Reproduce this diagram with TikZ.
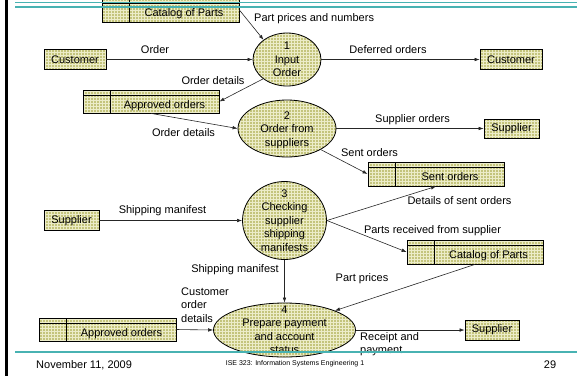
\documentclass[tikz,border=0pt]{standalone}
\usepackage{fontspec}
\setmainfont{Liberation Sans}
\usetikzlibrary{shapes.geometric,arrows.meta,patterns}
\definecolor{dfdfill}{RGB}{196,196,124}
\definecolor{gridline}{RGB}{236,236,200}
\definecolor{rulecol}{RGB}{72,178,178}
\begin{document}
\begin{tikzpicture}[x=1pt,y=-1pt,
  font=\fontsize{11}{13.5}\selectfont,
  boxfill/.style={preaction={fill=dfdfill}, pattern=grid, pattern color=gridline},
  ent/.style={draw, line width=0.8pt, boxfill, minimum height=20pt, inner sep=0pt},
  store/.style={draw, line width=0.8pt, boxfill, minimum height=23pt, inner sep=0pt,
    text height=13pt, text depth=0pt,
    path picture={
      \draw[line width=0.6pt] ([yshift=-5pt]path picture bounding box.north west) -- ([yshift=-5pt]path picture bounding box.north east);
      \draw[line width=0.8pt] ([xshift=27pt]path picture bounding box.north west) -- ([xshift=27pt]path picture bounding box.south west);}},
  proc/.style={ellipse, draw, line width=0.8pt, boxfill, inner sep=0pt},
  ptext/.style={align=center, inner sep=0pt},
  flow/.style={draw=black!85, line width=0.6pt, -{Latex[length=5pt,width=3.6pt]}},
  lbl/.style={inner sep=0pt, text height=8pt, text depth=2.5pt},
  mlbl/.style={inner sep=0pt, align=left, anchor=west}]
\useasboundingbox (0,0) rectangle (577,376);

% external entities
\node[ent, minimum width=62pt] (cust1) at (75,59.5) {Customer};
\node[ent, minimum width=62pt] (cust2) at (511,59.5) {Customer};
\node[ent, minimum width=55pt, minimum height=19pt] (sup1) at (511.5,128.5) {Supplier};
\node[ent, minimum width=55pt] (sup2) at (71.5,220.5) {Supplier};
\node[ent, minimum width=54pt] (sup3) at (492,330) {Supplier};

% data stores
\node[store, minimum width=137pt, minimum height=24pt] (cat1) at (170.5,10) {\hspace*{27pt}Catalog of Parts};
\node[store, minimum width=136pt] (ao1) at (151,101.5) {\hspace*{27pt}Approved orders};
\node[store, minimum width=136pt, minimum height=24pt] (so) at (436,174) {\hspace*{28pt}Sent orders};
\node[store, minimum width=136pt, minimum height=24pt] (cat2) at (475,252) {\hspace*{27pt}Catalog of Parts};
\node[store, minimum width=137pt] (ao2) at (107.5,329.5) {\hspace*{28pt}Approved orders};

% processes
\node[proc, minimum width=68pt, minimum height=53pt] (p1) at (287,59.5) {};
\node[ptext] (p1t) at (p1) {1\\Input\\Order};
\node[proc, minimum width=98pt, minimum height=57pt] (p2) at (287,128.5) {};
\node[ptext] (p2t) at (287,130) {2\\Order from\\suppliers};
\node[proc, minimum width=84pt, minimum height=78pt] (p3) at (284.5,220.5) {};
\node[ptext] (p3t) at (p3) {3\\Checking\\supplier\\shipping\\manifests};
\node[proc, minimum width=142pt, minimum height=54pt] (p4) at (284.5,330) {};
\node[ptext] (p4t) at (p4) {4\\Prepare payment\\and account\\status};

% data flows
\draw[flow] (cat1.east) -- (p1.140);
\draw[flow] (cust1.east) -- (p1.west);
\draw[flow] (p1.east) -- (cust2.west);
\draw[flow] (p1.219) -- (ao1.east);
\draw[flow] (ao1.south) -- (p2.west);
\draw[flow] (p2.east) -- (sup1.west);
\draw[flow] (p2.-32) -- (so.west);
\draw[flow] (sup2.east) -- (p3.west);
\draw[flow] (p3.east) -- (so.south);
\draw[flow] (p3.east) -- (cat2.west);
\draw[flow] (p3.south) -- (p4.north);
\draw[flow] (cat2.south) -- (p4.21);
\draw[flow] (ao2.east) -- (p4.west);
\draw[flow] (p4.east) -- (sup3.west);

% flow labels
\node[lbl, anchor=west] (l1) at (254,19) {Part prices and numbers};
\node[lbl] (l2) at (155,51) {Order};
\node[lbl] (l3) at (388,51) {Deferred orders};
\node[lbl] (l4) at (213,82) {Order details};
\node[lbl] (l5) at (183.5,134) {Order details};
\node[lbl] (l6) at (412.5,120) {Supplier orders};
\node[lbl] (l7) at (369.5,154) {Sent orders};
\node[lbl] (l8) at (162.5,211) {Shipping manifest};
\node[lbl] (l9) at (459.5,202) {Details of sent orders};
\node[lbl] (l10) at (432.5,231) {Parts received from supplier};
\node[lbl] (l11) at (235,270) {Shipping manifest};
\node[mlbl] (l12) at (181,305) {Customer\\order\\details};
\node[lbl] (l13) at (362,279) {Part prices};
\node[mlbl] (l14) at (360,344) {Receipt and\\payment};

% slide frame
\fill (5,0) rectangle (8,376);
\draw[rulecol, line width=1.3pt] (15,2.5) -- (577,2.5);
\draw[rulecol, line width=1.3pt] (15,7) -- (577,7);
\draw[rulecol, line width=1.3pt] (15,352) -- (577,352);

% footer
\node[lbl, anchor=west] (date) at (36,366) {November 11, 2009};
\node[inner sep=0pt, font=\fontsize{7}{8}\selectfont] (course) at (295,364) {ISE 323: Information Systems Engineering 1};
\node[lbl] (page) at (550,366) {29};
\end{tikzpicture}
\end{document}
